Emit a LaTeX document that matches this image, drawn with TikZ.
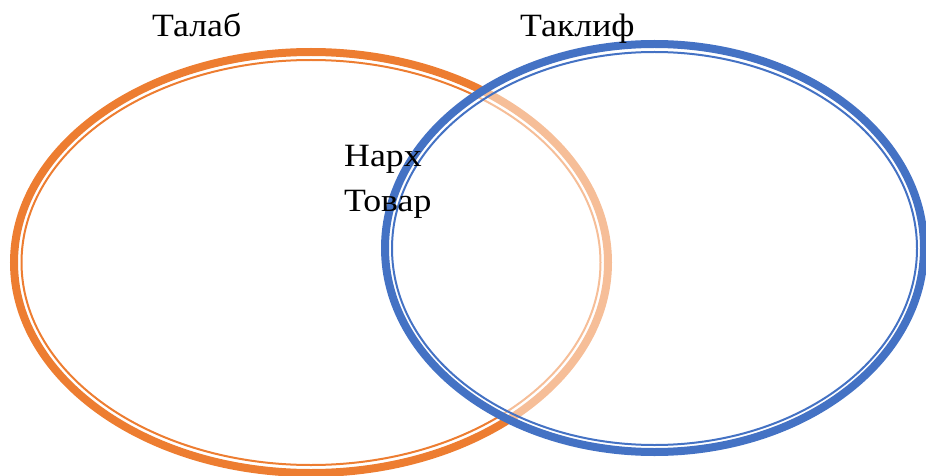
\documentclass[tikz,border=0pt]{standalone}
\usepackage{fontspec}
\setmainfont[FakeStretch=1.1]{Liberation Serif}
\definecolor{orng}{HTML}{ED7D31}
\definecolor{blu}{HTML}{4472C4}
\tikzset{
  thickring/.style={line width=8pt},
  thinring/.style={line width=2pt},
  lbl/.style={anchor=base west, inner sep=0pt, font=\fontsize{32.5}{38}\selectfont}
}
\begin{document}
\begin{tikzpicture}[x=1pt,y=-1pt]
\useasboundingbox (0,0) rectangle (926,476);
% orange set
\draw[orng, thickring] (311,262.5) ellipse [x radius=297, y radius=210.5];
\draw[orng, thinring] (311,262.5) ellipse [x radius=289.5, y radius=202.5];
% blue set, white translucent fill over orange
\fill[white, opacity=0.5] (654.5,248) ellipse [x radius=269.5, y radius=204];
\draw[blu, thickring] (654.5,248) ellipse [x radius=269.5, y radius=204];
\draw[blu, thinring] (654.5,248.5) ellipse [x radius=262.5, y radius=196.5];
% labels
\node[lbl] (talab) at (152,37) {Талаб};
\node[lbl] (taklif) at (520,37) {Таклиф};
\node[lbl] (narx) at (344,167) {Нарх};
\node[lbl] (tovar) at (344,211) {Товар};
\end{tikzpicture}
\end{document}
